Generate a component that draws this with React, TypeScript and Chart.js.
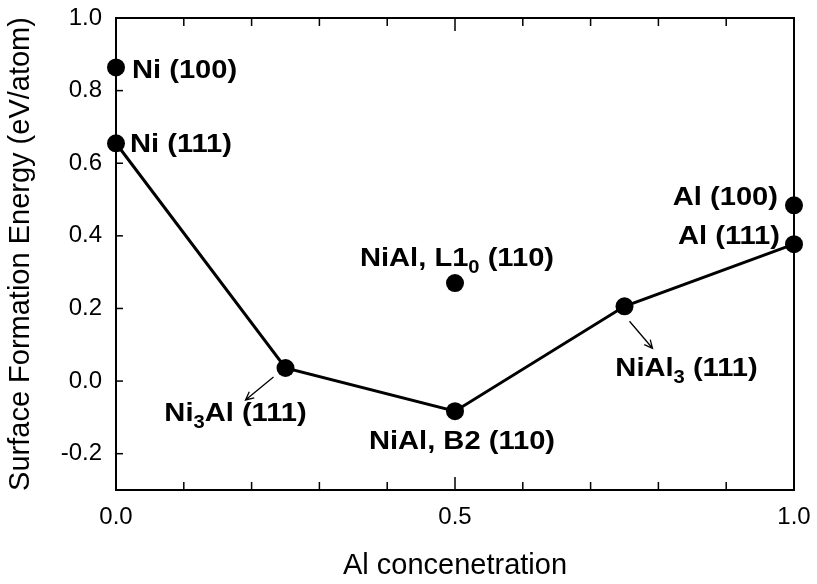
import React, { useEffect, useRef } from "react";
import { Chart, registerables } from "chart.js";

Chart.register(...registerables);

// ---- data ----
const lineX = [0, 0.25, 0.5, 0.75, 1.0];
const lineY = [0.655, 0.036, -0.083, 0.206, 0.377];
const extraX = [0, 0.5, 1.0];
const extraY = [0.864, 0.27, 0.484];
const xTickLabels = [0, 0.5, 1.0];
const yTickLabels = [1.0, 0.8, 0.6, 0.4, 0.2, 0.0, -0.2];
const xMinorTicks = [0.1, 0.2, 0.3, 0.4, 0.6, 0.7, 0.8, 0.9];
const xTitle = "Al concenetration";
const yTitle = "Surface Formation Energy (eV/atom)";

type Seg = { t: string; sub?: boolean };
type Lab = { parts: Seg[]; x: number; y: number; dx: number; dy: number; align: "left" | "center" | "right" };

const labelTexts: Seg[][] = [
  [{ t: "Ni (100)" }],
  [{ t: "Ni (111)" }],
  [{ t: "NiAl, L1" }, { t: "0", sub: true }, { t: " (110)" }],
  [{ t: "Ni" }, { t: "3", sub: true }, { t: "Al (111)" }],
  [{ t: "NiAl, B2 (110)" }],
  [{ t: "NiAl" }, { t: "3", sub: true }, { t: " (111)" }],
  [{ t: "Al (100)" }],
  [{ t: "Al (111)" }],
];

// label anchor (data coords) + pixel offsets
const labels: Lab[] = [
  { parts: labelTexts[0], x: 0, y: 0.864, dx: 16, dy: 3, align: "left" },
  { parts: labelTexts[1], x: 0, y: 0.655, dx: 14, dy: 2, align: "left" },
  { parts: labelTexts[2], x: 0.5, y: 0.27, dx: 2, dy: -24, align: "center" },
  { parts: labelTexts[3], x: 0.25, y: 0.036, dx: -50, dy: 46, align: "center" },
  { parts: labelTexts[4], x: 0.5, y: -0.083, dx: 7, dy: 31, align: "center" },
  { parts: labelTexts[5], x: 0.75, y: 0.206, dx: 62, dy: 63, align: "center" },
  { parts: labelTexts[6], x: 1.0, y: 0.484, dx: -16, dy: -8, align: "right" },
  { parts: labelTexts[7], x: 1.0, y: 0.377, dx: -14, dy: -7, align: "right" },
];

const arrows = [
  { x: 0.25, y: 0.036, sx: -12, sy: 9, ex: -40, ey: 32 },
  { x: 0.75, y: 0.206, sx: 5, sy: 15, ex: 28, ey: 42 },
];

const FONT = "'Liberation Sans', Arial, Helvetica, sans-serif";
const STRETCH = 1.12;

const decorPlugin = {
  id: "decor",
  beforeDatasetsDraw(chart: any) {
    const { ctx, chartArea } = chart;
    const xs = chart.scales.x;
    const ys = chart.scales.y;
    ctx.save();
    ctx.strokeStyle = "#000";
    ctx.lineWidth = 2;
    ctx.beginPath();
    ctx.moveTo(chartArea.left, chartArea.top);
    ctx.lineTo(chartArea.right, chartArea.top);
    ctx.lineTo(chartArea.right, chartArea.bottom);
    ctx.stroke();
    ctx.lineWidth = 1.5;
    const drawX = (v: number, len: number) => {
      const px = xs.getPixelForValue(v);
      ctx.beginPath();
      ctx.moveTo(px, chartArea.bottom);
      ctx.lineTo(px, chartArea.bottom - len);
      ctx.moveTo(px, chartArea.top);
      ctx.lineTo(px, chartArea.top + len);
      ctx.stroke();
    };
    xMinorTicks.forEach((v) => drawX(v, 8));
    drawX(0.5, 13);
    yTickLabels.forEach((v) => {
      const py = ys.getPixelForValue(v);
      ctx.beginPath();
      ctx.moveTo(chartArea.left, py);
      ctx.lineTo(chartArea.left + 7, py);
      ctx.stroke();
    });
    ctx.restore();
  },
  afterDatasetsDraw(chart: any) {
    const { ctx } = chart;
    const xs = chart.scales.x;
    const ys = chart.scales.y;
    ctx.save();
    ctx.fillStyle = "#000";
    ctx.textBaseline = "middle";
    const big = `bold 26px ${FONT}`;
    const small = `bold 18px ${FONT}`;
    labels.forEach((l) => {
      let w = 0;
      l.parts.forEach((p) => {
        ctx.font = p.sub ? small : big;
        w += ctx.measureText(p.t).width;
      });
      w *= STRETCH;
      const px = xs.getPixelForValue(l.x) + l.dx;
      const py = ys.getPixelForValue(l.y) + l.dy;
      const sx = l.align === "left" ? px : l.align === "center" ? px - w / 2 : px - w;
      ctx.save();
      ctx.translate(sx, py);
      ctx.scale(STRETCH, 1);
      ctx.textAlign = "left";
      let cx = 0;
      l.parts.forEach((p) => {
        ctx.font = p.sub ? small : big;
        ctx.fillText(p.t, cx, p.sub ? 9 : 0);
        cx += ctx.measureText(p.t).width;
      });
      ctx.restore();
    });
    ctx.strokeStyle = "#000";
    ctx.lineWidth = 1.3;
    arrows.forEach((a) => {
      const bx = xs.getPixelForValue(a.x);
      const by = ys.getPixelForValue(a.y);
      const x1 = bx + a.sx, y1 = by + a.sy, x2 = bx + a.ex, y2 = by + a.ey;
      const ang = Math.atan2(y2 - y1, x2 - x1);
      const hl = 9;
      ctx.beginPath();
      ctx.moveTo(x1, y1);
      ctx.lineTo(x2, y2);
      ctx.moveTo(x2 - hl * Math.cos(ang - 0.45), y2 - hl * Math.sin(ang - 0.45));
      ctx.lineTo(x2, y2);
      ctx.lineTo(x2 - hl * Math.cos(ang + 0.45), y2 - hl * Math.sin(ang + 0.45));
      ctx.stroke();
    });
    ctx.restore();
  },
};

export default function App() {
  const ref = useRef<HTMLCanvasElement | null>(null);
  useEffect(() => {
    if (!ref.current) return;
    const chart = new Chart(ref.current, {
      type: "scatter",
      data: {
        datasets: [
          {
            data: lineX.map((x, i) => ({ x, y: lineY[i] })),
            showLine: true,
            borderColor: "#000",
            borderWidth: 3,
            backgroundColor: "#000",
            pointRadius: 9,
            pointBorderWidth: 0,
            clip: false,
          } as any,
          {
            data: extraX.map((x, i) => ({ x, y: extraY[i] })),
            showLine: false,
            backgroundColor: "#000",
            borderColor: "#000",
            pointRadius: 9,
            pointBorderWidth: 0,
            clip: false,
          } as any,
        ],
      },
      options: {
        responsive: false,
        animation: false,
        layout: { padding: { left: 0, top: 18, right: 23, bottom: 0 } },
        plugins: { legend: { display: false }, tooltip: { enabled: false } },
        scales: {
          x: {
            type: "linear",
            min: 0,
            max: 1,
            afterBuildTicks: (s: any) => {
              s.ticks = xTickLabels.map((v) => ({ value: v }));
            },
            afterFit: (s: any) => {
              s.height = 94;
              s.paddingLeft = 0;
              s.paddingRight = 0;
            },
            grid: { display: true, drawOnChartArea: false, drawTicks: false },
            border: { display: true, color: "#000", width: 2 },
            ticks: {
              color: "#000",
              padding: 13,
              font: { family: FONT, size: 24 },
              callback: (v: any) => Number(v).toFixed(1),
            },
            title: {
              display: true,
              text: xTitle,
              color: "#000",
              font: { family: FONT, size: 29 },
              padding: { top: 0, bottom: 1 },
            },
          },
          y: {
            type: "linear",
            min: -0.3,
            max: 1.0,
            afterBuildTicks: (s: any) => {
              s.ticks = yTickLabels.map((v) => ({ value: v }));
            },
            afterFit: (s: any) => {
              s.width = 116;
              s.paddingTop = 0;
              s.paddingBottom = 0;
            },
            grid: { display: true, drawOnChartArea: false, drawTicks: false },
            border: { display: true, color: "#000", width: 2 },
            ticks: {
              color: "#000",
              padding: 14,
              font: { family: FONT, size: 24 },
              callback: (v: any) => Number(v).toFixed(1),
            },
            title: {
              display: true,
              text: yTitle,
              color: "#000",
              font: { family: FONT, size: 29 },
              padding: { top: 4, bottom: 0 },
            },
          },
        },
      },
      plugins: [decorPlugin],
    });
    return () => chart.destroy();
  }, []);
  return (
    <div style={{ position: "absolute", left: 0, top: 0, width: 817, height: 584, background: "#fff" }}>
      <canvas ref={ref} width={817} height={584} />
    </div>
  );
}
